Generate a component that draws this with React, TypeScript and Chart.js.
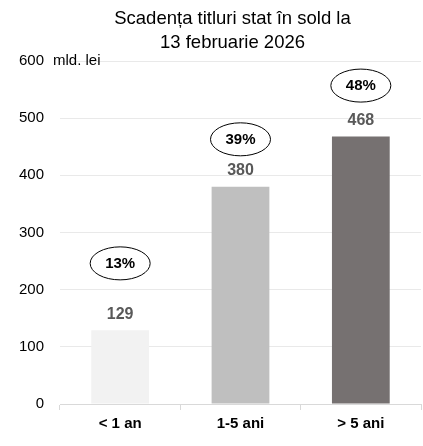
import { useEffect, useRef } from "react";
import { Chart, registerables } from "chart.js";

Chart.register(...registerables);

const categories = ["< 1 an", "1-5 ani", "> 5 ani"];
const values = [129, 380, 468];
const shares = ["13%", "39%", "48%"];
const shareLabelY = [246, 463, 557];
const barColors = ["#f2f2f2", "#bfbfbf", "#767171"];
const titleLines = ["Scadența titluri stat în sold la", "13 februarie 2026"];
const unitLabel = "mld. lei";
const yMin = 0;
const yMax = 600;
const yStep = 100;

const FONT = "'Liberation Sans', Arial, sans-serif";

const annotationPlugin = {
  id: "annotations",
  afterDatasetsDraw(chart: any) {
    const ctx = chart.ctx;
    const meta = chart.getDatasetMeta(0);
    const yScale = chart.scales.y;
    const area = chart.chartArea;
    ctx.save();
    ctx.textAlign = "center";
    ctx.textBaseline = "middle";
    meta.data.forEach((bar: any, i: number) => {
      ctx.font = `bold 16px ${FONT}`;
      ctx.fillStyle = "#595959";
      ctx.fillText(String(values[i]), bar.x, bar.y - 16);
      const cy = yScale.getPixelForValue(shareLabelY[i]);
      ctx.beginPath();
      ctx.ellipse(bar.x, cy, 30, 16.5, 0, 0, Math.PI * 2);
      ctx.lineWidth = 1;
      ctx.strokeStyle = "#000";
      ctx.stroke();
      ctx.font = `bold 15px ${FONT}`;
      ctx.fillStyle = "#000";
      ctx.fillText(shares[i], bar.x, cy + 0.5);
    });
    ctx.font = `18.5px ${FONT}`;
    ctx.fillStyle = "#000";
    const tx = (area.left + area.right) / 2 - 8;
    ctx.fillText(titleLines[0], tx, 19);
    ctx.fillText(titleLines[1], tx, 43);
    ctx.font = `15px ${FONT}`;
    ctx.textAlign = "left";
    ctx.fillText(unitLabel, area.left - 7, area.top);
    ctx.restore();
  },
};

export default function App() {
  const ref = useRef<HTMLCanvasElement>(null);
  useEffect(() => {
    document.body.style.margin = "0";
    const canvas = ref.current!;
    const chart = new Chart(canvas, {
      type: "bar",
      data: {
        labels: categories,
        datasets: [
          {
            data: values,
            backgroundColor: barColors,
            borderWidth: 0,
            barPercentage: 0.48,
            categoryPercentage: 1,
          },
        ],
      },
      options: {
        responsive: false,
        animation: false,
        devicePixelRatio: 1,
        layout: { padding: { top: 61, left: 0, right: 2, bottom: 0 } },
        plugins: {
          legend: { display: false },
          tooltip: { enabled: false },
          title: { display: false },
        },
        scales: {
          x: {
            afterFit: (s: any) => {
              s.height = 42;
            },
            grid: {
              offset: true,
              drawOnChartArea: false,
              tickLength: 6,
              color: "#d9d9d9",
            },
            border: { color: "#d9d9d9" },
            ticks: {
              padding: 5,
              color: "#000",
              font: { family: FONT, size: 15, weight: "bold" },
            },
          },
          y: {
            min: yMin,
            max: yMax,
            afterFit: (s: any) => {
              s.width = 60;
            },
            ticks: {
              stepSize: yStep,
              padding: 16,
              color: "#000",
              font: { family: FONT, size: 15 },
            },
            grid: { color: "#e9e9e9", drawTicks: false },
            border: { display: false },
          },
        },
      },
      plugins: [annotationPlugin],
    } as any);
    return () => chart.destroy();
  }, []);
  return (
    <div style={{ width: 423, height: 446, position: "relative" }}>
      <canvas ref={ref} width={423} height={446} style={{ display: "block" }} />
    </div>
  );
}
